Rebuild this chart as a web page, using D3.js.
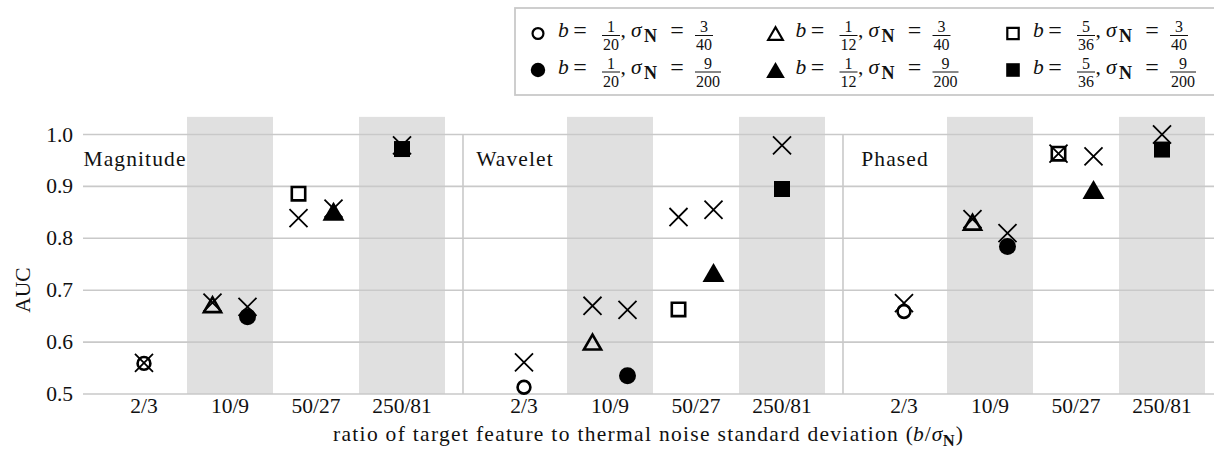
<!DOCTYPE html>
<html>
<head>
<meta charset="utf-8">
<script src="https://cdn.jsdelivr.net/npm/d3@7"></script>
<style>
  body { margin: 0; background: #fff; }
  svg { display: block; }
  svg text { font-family: "Liberation Serif", "Times New Roman", "DejaVu Serif", serif; fill: #111; }
</style>
</head>
<body>
<svg id="chart" width="1214" height="452"></svg>
<script>
// panels and x categories
const PANELS = ['Magnitude', 'Wavelet', 'Phased'];
const RATIOS = ['2/3', '10/9', '50/27', '250/81'];
const SHADED = ['10/9', '250/81'];
const Y_TICKS = [0.5, 0.6, 0.7, 0.8, 0.9, 1.0];

// series, in legend order (column by column)
const SERIES_SHAPE = ['circle', 'circle', 'triangle', 'triangle', 'square', 'square'];
const SERIES_FILLED = [false, true, false, true, false, true];
const SERIES_B = [['1', '20'], ['1', '20'], ['1', '12'], ['1', '12'], ['5', '36'], ['5', '36']];
const SERIES_SIGMA = [['3', '40'], ['9', '200'], ['3', '40'], ['9', '200'], ['3', '40'], ['9', '200']];
const SERIES_RATIO = ['2/3', '10/9', '10/9', '50/27', '50/27', '250/81'];

// AUC per series, one array per panel
const AUC_MAGNITUDE = [0.559, 0.649, 0.672, 0.852, 0.886, 0.972];
const AUC_WAVELET = [0.513, 0.535, 0.600, 0.734, 0.663, 0.895];
const AUC_PHASED = [0.659, 0.784, 0.831, 0.894, 0.963, 0.971];

// the cross markers drawn at the same x spots
const CROSS_MAGNITUDE = [0.560, 0.668, 0.676, 0.857, 0.839, 0.979];
const CROSS_WAVELET = [0.561, 0.662, 0.670, 0.855, 0.841, 0.979];
const CROSS_PHASED = [0.675, 0.810, 0.837, 0.958, 0.963, 1.000];

const AUC = [AUC_MAGNITUDE, AUC_WAVELET, AUC_PHASED];
const CROSS = [CROSS_MAGNITUDE, CROSS_WAVELET, CROSS_PHASED];

const SVG = d3.select('#chart');
const SERIF = '"Liberation Serif", "Times New Roman", "DejaVu Serif", serif';
const FONT = 21.5;
const FRAC = 16;
const SUB = 16.5;
const GRID = '#c9c9c9';
const BAND = '#e0e0e0';

// scales
const X_PANEL = d3.scaleBand().domain(PANELS).range([83, 1223]);
const X_CAT = d3.scaleBand().domain(RATIOS).range([0, X_PANEL.bandwidth()])
    .paddingInner(0).paddingOuter(0.209);
const Y = d3.scaleLinear().domain([0.5, 1.0]).range([394, 134.5]);
const Y_TOP = 1.034;

// left/right spot of a series inside its category
function seriesX(panel, i) {
    const cat = SERIES_RATIO[i];
    const inCat = SERIES_RATIO.map((r, j) => j).filter(j => SERIES_RATIO[j] === cat)
        .sort((a, b) => SERIES_FILLED[a] - SERIES_FILLED[b]);
    const inner = d3.scalePoint().domain(inCat).range([-17.5, 17.5]);
    return X_PANEL(panel) + X_CAT(cat) + X_CAT.bandwidth() / 2 + inner(i);
}

// triangle centred on its bounding box, size = half width
const TRIANGLE = {
    draw(ctx, size) {
        const h = size * 0.86;
        ctx.moveTo(0, -h);
        ctx.lineTo(-size, h);
        ctx.lineTo(size, h);
        ctx.closePath();
    }
};

function markerPath(shape, filled, scale) {
    if (shape === 'circle') {
        const r = (filled ? 8.5 : 6.4) * scale;
        return d3.symbol(d3.symbolCircle, Math.PI * r * r)();
    }
    if (shape === 'square') {
        const s = (filled ? 16 : 13.4) * scale;
        return d3.symbol(d3.symbolSquare, s * s)();
    }
    return d3.symbol(TRIANGLE, (filled ? 11 : 8.6) * scale)();
}

function drawMarker(g, x, y, i, scale) {
    const filled = SERIES_FILLED[i];
    g.append('path')
        .attr('d', markerPath(SERIES_SHAPE[i], filled, scale))
        .attr('transform', `translate(${x},${y})`)
        .attr('fill', filled ? '#000' : 'none')
        .attr('stroke', filled ? 'none' : '#000')
        .attr('stroke-width', 2.6 * scale);
}

function txt(g, size) {
    return g.append('text').attr('font-family', SERIF).style('font-size', (size || FONT) + 'px');
}

// shaded columns
const bandG = SVG.append('g');
PANELS.forEach(p => {
    SHADED.forEach(c => {
        bandG.append('rect')
            .attr('x', X_PANEL(p) + X_CAT(c))
            .attr('width', X_CAT.bandwidth())
            .attr('y', Y(Y_TOP))
            .attr('height', Y(0.5) - Y(Y_TOP))
            .attr('fill', BAND);
    });
});

// horizontal grid
SVG.append('g').selectAll('line')
    .data(Y_TICKS)
    .join('line')
    .attr('x1', X_PANEL.range()[0]).attr('x2', X_PANEL.range()[1])
    .attr('y1', d => Y(d)).attr('y2', d => Y(d))
    .attr('stroke', GRID).attr('stroke-width', 1.6);

// panel separators
SVG.append('g').selectAll('line')
    .data(PANELS.slice(1))
    .join('line')
    .attr('x1', d => X_PANEL(d)).attr('x2', d => X_PANEL(d))
    .attr('y1', Y(1.0)).attr('y2', Y(0.5))
    .attr('stroke', GRID).attr('stroke-width', 1.6);

// y tick labels
Y_TICKS.forEach(v => {
    txt(SVG).attr('x', 73).attr('y', Y(v) + 7)
        .attr('text-anchor', 'end')
        .text(v.toFixed(1));
});

// x tick labels
PANELS.forEach(p => {
    RATIOS.forEach(r => {
        txt(SVG).attr('x', X_PANEL(p) + X_CAT(r) + X_CAT.bandwidth() / 2)
            .attr('y', 413)
            .attr('text-anchor', 'middle')
            .text(r);
    });
});

// panel names (letter spacing stands in for the wider TeX font)
PANELS.forEach(p => {
    txt(SVG).attr('x', X_PANEL(p) + 52).attr('y', 166)
        .attr('text-anchor', 'middle')
        .style('letter-spacing', '1.1px')
        .text(p);
});

// markers
PANELS.forEach((p, pi) => {
    const g = SVG.append('g');
    SERIES_SHAPE.forEach((s, i) => drawMarker(g, seriesX(p, i), Y(AUC[pi][i]), i, 1));
    g.selectAll('path.cross')
        .data(CROSS[pi])
        .join('path')
        .attr('class', 'cross')
        .attr('d', d3.symbol(d3.symbolX, 214)())
        .attr('transform', (d, i) => `translate(${seriesX(p, i)},${Y(d)})`)
        .attr('fill', 'none')
        .attr('stroke', '#000')
        .attr('stroke-width', 1.8);
});

// y axis title
txt(SVG)
    .attr('transform', 'translate(29.5,290) rotate(-90)')
    .attr('text-anchor', 'middle')
    .text('AUC');

// x axis title
const TITLE_X = 333;
const TITLE_Y = 441;
txt(SVG).attr('x', TITLE_X).attr('y', TITLE_Y)
    .attr('textLength', 580).attr('lengthAdjust', 'spacing')
    .text('ratio of target feature to thermal noise standard deviation (');
let tx = TITLE_X + 580;
const tB = txt(SVG).attr('x', tx).attr('y', TITLE_Y).style('font-style', 'italic').text('b');
tx += tB.node().getComputedTextLength() + 1;
const tS = txt(SVG).attr('x', tx).attr('y', TITLE_Y).text('/');
tx += tS.node().getComputedTextLength() + 1;
const tSig = txt(SVG).attr('x', tx).attr('y', TITLE_Y).style('font-style', 'italic').text('σ');
tx += tSig.node().getComputedTextLength() + 0.5;
const tN = txt(SVG, SUB).attr('x', tx).attr('y', TITLE_Y + 4.5).style('font-weight', 'bold').text('N');
tx += tN.node().getComputedTextLength() + 1;
txt(SVG).attr('x', tx).attr('y', TITLE_Y).text(')');

// legend: one math label "b = n/d, σN = n/d"
function fraction(g, x, cy, parts) {
    const num = txt(g, FRAC).attr('y', cy - 1.5).attr('text-anchor', 'middle').text(parts[0]);
    const den = txt(g, FRAC).attr('y', cy + 16.8).attr('text-anchor', 'middle').text(parts[1]);
    const w = Math.max(num.node().getComputedTextLength(), den.node().getComputedTextLength()) + 2;
    num.attr('x', x + w / 2);
    den.attr('x', x + w / 2);
    g.append('line').attr('x1', x).attr('x2', x + w)
        .attr('y1', cy + 2).attr('y2', cy + 2)
        .attr('stroke', '#111').attr('stroke-width', 1);
    return x + w;
}

function mathLabel(g, x0, cy, b, sigma) {
    const base = cy + 3.5;
    txt(g).attr('x', x0).attr('y', base).style('font-style', 'italic').text('b');
    txt(g, 24).attr('x', x0 + 22).attr('y', base + 1).attr('text-anchor', 'middle').text('=');
    const end = fraction(g, x0 + 44, cy, b);
    txt(g).attr('x', end + 0.5).attr('y', base).text(',');
    txt(g).attr('x', x0 + 73).attr('y', base).style('font-style', 'italic').text('σ');
    txt(g, 18).attr('x', x0 + 86).attr('y', base + 5).style('font-weight', 'bold').text('N');
    txt(g, 24).attr('x', x0 + 119).attr('y', base + 1).attr('text-anchor', 'middle').text('=');
    fraction(g, x0 + 137, cy, sigma);
}

const LEG_COL_X = [538, 775.5, 1013];
const LEG_ROW_Y = [33.5, 70];
const legend = SVG.append('g');
legend.append('rect')
    .attr('x', 515).attr('y', 8)
    .attr('width', 720).attr('height', 87)
    .attr('fill', '#fff')
    .attr('stroke', '#c9c9c9').attr('stroke-width', 1.8);

SERIES_SHAPE.forEach((s, i) => {
    const cx = LEG_COL_X[Math.floor(i / 2)];
    const cy = LEG_ROW_Y[i % 2];
    drawMarker(legend, cx, cy, i, 0.85);
    mathLabel(legend, cx + 20, cy, SERIES_B[i], SERIES_SIGMA[i]);
});
</script>
</body>
</html>
